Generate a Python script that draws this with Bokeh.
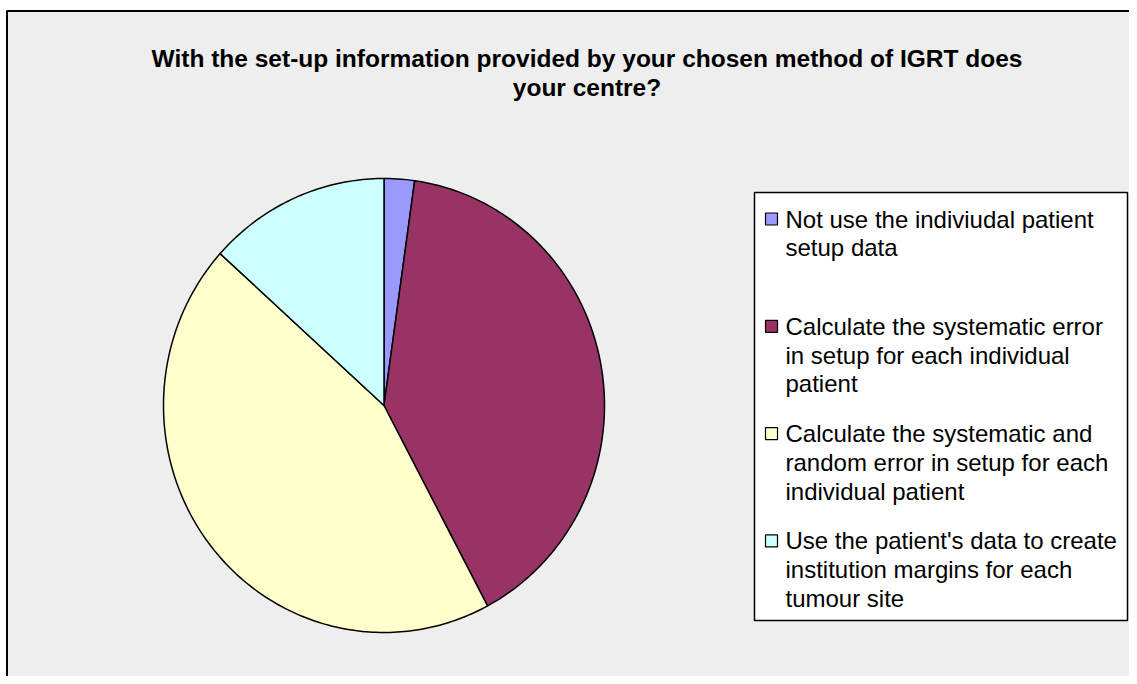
import numpy as np
from bokeh.plotting import figure
from bokeh.models import Range1d, BoxAnnotation
from bokeh.core.properties import value
from bokeh.embed import file_html
from bokeh.resources import INLINE

# ---- data ----
TITLE_LINES = ["With the set-up information provided by your chosen method of IGRT does",
               "your centre?"]
CATEGORIES = [
    "Not use the indiviudal patient\nsetup data",
    "Calculate the systematic error\nin setup for each individual\npatient",
    "Calculate the systematic and\nrandom error in setup for each\nindividual patient",
    "Use the patient's data to create\ninstitution margins for each\ntumour site",
]
VALUES = [1, 18, 20, 6]
COLORS = ["#9999FF", "#993366", "#FFFFCC", "#CCFFFF"]

FONT = "Liberation Sans"

# layout (1 data unit = 1 px, pie centre at origin)
W, H = 1129, 676
CX, CY = 383.5, 405.0
p = figure(width=W, height=H, output_backend="svg", toolbar_location=None,
           x_range=Range1d(-CX, W - CX), y_range=Range1d(CY - H, CY),
           min_border_left=0, min_border_right=0, min_border_top=0, min_border_bottom=0)
p.axis.visible = False
p.grid.visible = False
p.background_fill_color = "white"
p.border_fill_color = "white"
p.outline_line_color = None

# chart area with frame
p.add_layout(BoxAnnotation(left=6.5 - CX, right=W - CX + 50, top=CY - 10.5, bottom=CY - H - 50,
                           fill_color="#EEEEEE", fill_alpha=1.0, line_color="black",
                           line_alpha=1.0, line_width=2, level="underlay"))

# ---- pie ----
rx, ry = 220.5, 227.0
vals = np.array(VALUES, dtype=float)
cum = np.concatenate([[0], np.cumsum(vals)]) / vals.sum() * 2 * np.pi
xs, ys = [], []
for a0, a1 in zip(cum[:-1], cum[1:]):
    t = np.linspace(a0, a1, max(int((a1 - a0) / (2 * np.pi) * 400), 8))
    xs.append(list(np.concatenate([[0], rx * np.sin(t), [0]])))
    ys.append(list(np.concatenate([[0], ry * np.cos(t), [0]])))
p.patches(xs, ys, fill_color=COLORS, line_color="black", line_width=1.5, line_join="round")

# ---- title ----
for i, line in enumerate(TITLE_LINES):
    p.text(x=[586.5 - CX], y=[CY - 58 - i * 29], text=[line], text_align="center",
           text_baseline="middle", text_font=value(FONT), text_font_size="24.5px",
           text_font_style="bold", text_color="black")

# ---- legend ----
p.add_layout(BoxAnnotation(left=754 - CX, right=1127 - CX, top=CY - 192, bottom=CY - 620,
                           fill_color="white", fill_alpha=1.0,
                           line_color="black", line_alpha=1.0, line_width=1.5,
                           level="underlay"))
entry_gap = 107.3
line_gap = 28.8
y0 = CY - 218.5
sq_x, sq_y, tx, ty, tt = [], [], [], [], []
for i, lab in enumerate(CATEGORIES):
    ye = y0 - i * entry_gap
    sq_x.append(771 - CX)
    sq_y.append(ye)
    for j, ln in enumerate(lab.split("\n")):
        tx.append(785 - CX)
        ty.append(ye - j * line_gap)
        tt.append(ln)
p.rect(x=sq_x, y=sq_y, width=12, height=12, fill_color=COLORS,
       line_color="black", line_width=1.2)
p.text(x=tx, y=ty, text=tt, text_align="left", text_baseline="middle",
       text_font=value(FONT), text_font_size="24px", text_color="black")

open("out.html", "w").write(file_html(p, INLINE))
